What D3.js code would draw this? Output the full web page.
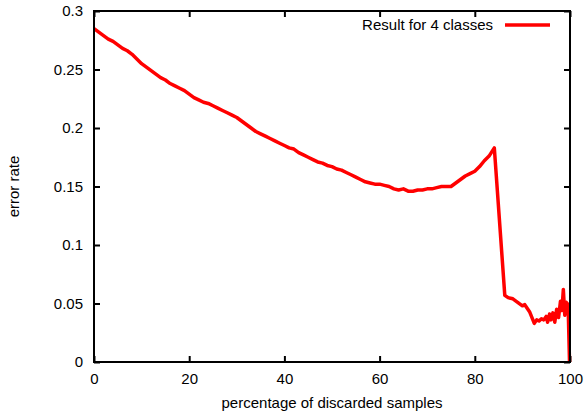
<!DOCTYPE html>
<html>
<head>
<meta charset="utf-8">
<script src="https://cdn.jsdelivr.net/npm/d3@7"></script>
<style>
  body { margin: 0; background: #fff; }
  text { font-family: "Liberation Sans", Arial, sans-serif; }
</style>
</head>
<body>
<div id="chart"></div>
<script>
// percentage of discarded samples
var pct = [0, 1, 2, 3, 4, 5, 6, 7, 8, 9,
    10, 11, 12, 13, 14, 15, 16, 17, 18, 19,
    20, 21, 22, 23, 24, 25, 26, 27, 28, 29,
    30, 31, 32, 33, 34, 35, 36, 37, 38, 39,
    40, 41, 42, 43, 44, 45, 46, 47, 48, 49,
    50, 51, 52, 53, 54, 55, 56, 57, 58, 59,
    60, 61, 62, 63, 64, 65, 66, 67, 68, 69,
    70, 71, 72, 73, 74, 75, 76, 77, 78, 79,
    80, 81, 82, 83, 84.1,
    86.3, 87, 88, 89, 90, 90.5, 91.5, 92.5, 93, 93.5,
    94, 94.5, 95, 95.3, 95.7, 96, 96.4, 96.8, 97.2, 97.6,
    98, 98.3, 98.6, 98.9, 99.2, 99.6, 99.9];

// error rate, result for 4 classes
var errRate = [0.285, 0.282, 0.279, 0.276, 0.274, 0.271, 0.268, 0.266, 0.263, 0.259,
    0.255, 0.252, 0.249, 0.246, 0.243, 0.241, 0.238, 0.236, 0.234, 0.232,
    0.229, 0.226, 0.224, 0.222, 0.221, 0.219, 0.217, 0.215, 0.213, 0.211,
    0.209, 0.206, 0.203, 0.200, 0.197, 0.195, 0.193, 0.191, 0.189, 0.187,
    0.185, 0.183, 0.182, 0.179, 0.177, 0.175, 0.173, 0.171, 0.170, 0.168,
    0.167, 0.165, 0.164, 0.162, 0.160, 0.158, 0.156, 0.154, 0.153, 0.152,
    0.152, 0.151, 0.150, 0.148, 0.147, 0.148, 0.146, 0.146, 0.147, 0.147,
    0.148, 0.148, 0.149, 0.150, 0.150, 0.150, 0.153, 0.156, 0.159, 0.161,
    0.163, 0.167, 0.172, 0.176, 0.183,
    0.057, 0.055, 0.054, 0.051, 0.048, 0.049, 0.043, 0.033, 0.036, 0.035,
    0.037, 0.036, 0.039, 0.034, 0.041, 0.036, 0.042, 0.034, 0.045, 0.038,
    0.052, 0.044, 0.062, 0.040, 0.051, 0.049, 0.0];

var xTicks = [0, 20, 40, 60, 80, 100];
var yTicks = [0, 0.05, 0.1, 0.15, 0.2, 0.25, 0.3];
var legendLabel = "Result for 4 classes";

var W = 587, H = 412;
var m = { left: 94, right: 17, top: 11, bottom: 50 };

var svg = d3.select("#chart").append("svg")
    .attr("width", W)
    .attr("height", H);

var x = d3.scaleLinear().domain([0, 100]).range([m.left, W - m.right]);
var y = d3.scaleLinear().domain([0, 0.3]).range([H - m.bottom, m.top]);

// axes with inward ticks, mirrored on top/right
function noDomain(g) { g.select(".domain").remove(); g.selectAll("text").remove(); }

svg.append("g")
    .attr("transform", "translate(0," + y(0) + ")")
    .call(d3.axisBottom(x).tickValues(xTicks).tickSizeInner(-6).tickSizeOuter(0).tickFormat(d3.format("d")))
    .call(g => g.select(".domain").remove())
    .call(g => g.selectAll("line").attr("stroke", "#000").attr("stroke-width", 2))
    .call(g => g.selectAll("text").attr("y", 11).attr("dy", "0.71em")
        .attr("font-size", 15).attr("fill", "#000"));

svg.append("g")
    .attr("transform", "translate(" + x(0) + ",0)")
    .call(d3.axisLeft(y).tickValues(yTicks).tickSizeInner(-6).tickSizeOuter(0).tickFormat(d => d3.format("")(+d.toFixed(2))))
    .call(g => g.select(".domain").remove())
    .call(g => g.selectAll("line").attr("stroke", "#000").attr("stroke-width", 2))
    .call(g => g.selectAll("text").attr("x", -11)
        .attr("font-size", 15).attr("fill", "#000"));

svg.append("g")
    .attr("transform", "translate(0," + y(0.3) + ")")
    .call(d3.axisTop(x).tickValues(xTicks).tickSizeInner(-6).tickSizeOuter(0))
    .call(noDomain)
    .call(g => g.selectAll("line").attr("stroke", "#000").attr("stroke-width", 2));

svg.append("g")
    .attr("transform", "translate(" + x(100) + ",0)")
    .call(d3.axisRight(y).tickValues(yTicks).tickSizeInner(-6).tickSizeOuter(0))
    .call(noDomain)
    .call(g => g.selectAll("line").attr("stroke", "#000").attr("stroke-width", 2));

// the curve
var line = d3.line()
    .x((d, i) => x(pct[i]))
    .y(d => y(d));

svg.append("path")
    .datum(errRate)
    .attr("fill", "none")
    .attr("stroke", "#ff0000")
    .attr("stroke-width", 3.5)
    .attr("stroke-linejoin", "round")
    .attr("d", line);

// frame
svg.append("rect")
    .attr("x", x(0))
    .attr("y", y(0.3))
    .attr("width", x(100) - x(0))
    .attr("height", y(0) - y(0.3))
    .attr("fill", "none")
    .attr("stroke", "#000")
    .attr("stroke-width", 2);

// legend
svg.append("text")
    .attr("x", 493)
    .attr("y", 25)
    .attr("dy", "0.35em")
    .attr("text-anchor", "end")
    .attr("font-size", 15)
    .text(legendLabel);

svg.append("line")
    .attr("x1", 505).attr("x2", 550)
    .attr("y1", 25).attr("y2", 25)
    .attr("stroke", "#ff0000")
    .attr("stroke-width", 3.5);

// axis titles
svg.append("text")
    .attr("x", (x(0) + x(100)) / 2)
    .attr("y", 408)
    .attr("text-anchor", "middle")
    .attr("font-size", 15)
    .text("percentage of discarded samples");

svg.append("text")
    .attr("transform", "translate(19," + (y(0) + y(0.3)) / 2 + ") rotate(-90)")
    .attr("text-anchor", "middle")
    .attr("font-size", 15)
    .text("error rate");
</script>
</body>
</html>
